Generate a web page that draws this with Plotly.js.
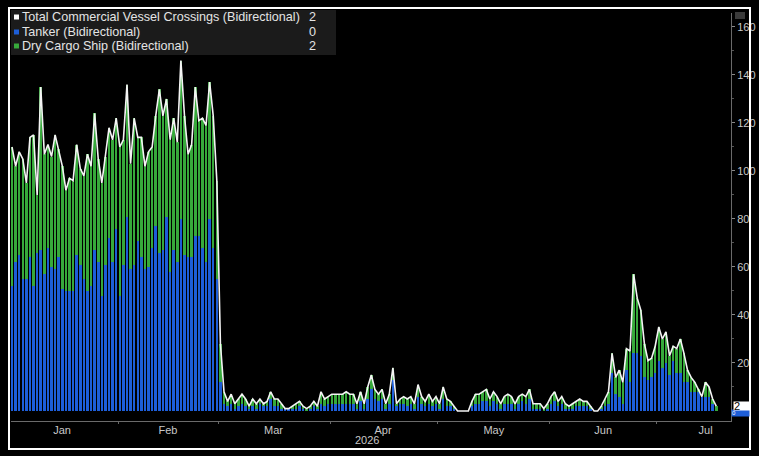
<!DOCTYPE html>
<html>
<head>
<meta charset="utf-8">
<script src="https://cdn.plot.ly/plotly-3.0.1.min.js"></script>
<style>
  html, body { margin: 0; padding: 0; background: #000; }
  #chart { width: 759px; height: 456px; }
</style>
</head>
<body>
<div id="chart"></div>
<script>
// ---- Data (daily, starting 2026-01-02) ----
const firstDay = '2026-01-02';

const totalCrossings = [
  110,102,108,105,95,114,115,90,135,107,111,106,115,109,102,92,97,96,111,101,98,107,102,124,105,95,106,118,113,122,
  110,113,136,103,122,114,114,102,108,110,123,134,123,130,113,122,112,146,123,107,111,135,121,122,119,137,123,96,
  28,
  8,4,7,3,5,7,5,2,5,3,5,3,4,8,5,5,3,1,1,2,3,4,2,1,2,4,2,8,5,6,7,
  7,7,7,8,7,7,3,8,3,10,15,9,7,9,3,7,18,3,5,6,5,6,3,11,6,4,7,4,6,3,10,5,4,
  2,0,0,0,0,
  4,7,7,8,9,5,8,6,3,6,7,6,3,6,7,6,9,
  3,3,3,1,3,6,8,4,6,3,2,3,4,5,4,4,2,0,0,2,5,8,24,14,17,12,26,25,
  57,47,42,28,21,22,27,35,30,33,23,27,26,30,24,17,14,12,9,6,12,10,5,2
];

const tanker = [
  52,62,65,55,55,64,52,66,67,57,68,60,59,64,51,50,50,50,65,61,55,50,52,67,62,48,61,72,62,76,
  48,61,81,59,61,71,64,59,60,68,77,66,67,81,58,67,62,80,65,64,64,73,73,68,62,80,68,55,
  12,
  3,2,3,1,2,3,2,1,2,1,3,2,2,5,2,2,1,1,1,1,1,2,1,0,1,2,1,3,2,3,3,
  3,3,3,3,3,3,1,4,1,5,9,5,4,5,1,3,13,2,3,3,2,3,1,6,3,2,3,2,3,1,5,2,2,
  1,0,0,0,0,
  2,3,3,4,4,2,4,3,1,3,3,3,1,3,4,3,5,
  1,1,1,0,1,3,4,2,3,1,1,1,2,2,2,2,1,0,0,1,2,3,16,7,6,3,17,12,
  24,24,23,14,13,14,16,21,18,20,15,21,16,16,12,12,8,8,8,6,6,6,3,0
];

const dryCargo = [
  58,40,43,50,40,50,63,24,68,50,43,46,56,45,51,42,47,46,46,40,43,57,50,57,43,47,45,46,51,46,
  62,52,55,44,61,43,50,43,48,42,46,68,56,49,55,55,50,66,58,43,47,62,48,54,57,57,55,41,
  16,
  5,2,4,2,3,4,3,1,3,2,2,1,2,3,3,3,2,0,0,1,2,2,1,1,1,2,1,5,3,3,4,
  4,4,4,5,4,4,2,4,2,5,6,4,3,4,2,4,5,1,2,3,3,3,2,5,3,2,4,2,3,2,5,3,2,
  1,0,0,0,0,
  2,4,4,4,5,3,4,3,2,3,4,3,2,3,3,3,4,
  2,2,2,1,2,3,4,2,3,2,1,2,2,3,2,2,1,0,0,1,3,5,8,7,11,9,9,13,
  33,23,19,14,8,8,11,14,12,13,8,6,10,14,12,5,6,4,1,0,6,4,2,2
];

const seriesNames = [
  'Total Commercial Vessel Crossings (Bidirectional)',
  'Tanker (Bidirectional)',
  'Dry Cargo Ship (Bidirectional)'
];
const lastValues = ['2', '0', '2'];
const yTickVals = [20, 40, 60, 80, 100, 120, 140, 160];
const monthLabels = ['Jan', 'Feb', 'Mar', 'Apr', 'May', 'Jun', 'Jul'];
const monthLabelDates = ['2026-01-16 10:00', '2026-02-14 22:00', '2026-03-16 07:00', '2026-04-15 18:00',
                         '2026-05-16 14:00', '2026-06-16 01:00', '2026-07-14 13:00'];
const yearLabel = '2026';

// ---- Dates ----
const dates = totalCrossings.map((_, i) => {
  const d = new Date(firstDay + 'T12:00:00Z');
  d.setUTCDate(d.getUTCDate() + i);
  return d.toISOString().slice(0, 19).replace('T', ' ');
});

// ---- Layout helpers (pixel -> paper) ----
const W = 759, H = 456, L = 11, R = 731, T = 13, B = 421;
const px = x => (x - L) / (R - L);
const py = y => (B - y) / (B - T);

const BLUE = '#1d5ed8';
const GREEN = '#37a93b';
const TXT = '#e4e4e4';
const FONT = 'Liberation Sans, Arial, sans-serif';

const traces = [
  { type: 'bar', x: dates, y: tanker, name: seriesNames[1],
    marker: { color: BLUE, line: { width: 0 } }, hoverinfo: 'skip' },
  { type: 'bar', x: dates, y: dryCargo, name: seriesNames[2],
    marker: { color: GREEN, line: { width: 0 } }, hoverinfo: 'skip' },
  { type: 'scatter', mode: 'lines', x: dates, y: totalCrossings, name: seriesNames[0],
    line: { color: '#f4f4f4', width: 1.6 }, hoverinfo: 'skip' }
];

const legendRows = [17, 32, 46];
const legendColors = ['#ffffff', BLUE, GREEN];

const shapes = [
  { type: 'rect', xref: 'paper', yref: 'paper', x0: px(9), x1: px(750), y0: py(449), y1: py(8),
    line: { color: '#ffffff', width: 2 }, fillcolor: 'rgba(0,0,0,0)', layer: 'above' },
  { type: 'rect', xref: 'paper', yref: 'paper', x0: px(11), x1: px(336), y0: py(55), y1: py(10),
    line: { width: 0 }, fillcolor: '#1b1b1b', layer: 'above' },
  { type: 'rect', xref: 'paper', yref: 'paper', x0: px(735), x1: px(745), y0: py(19), y1: py(12),
    line: { width: 0 }, fillcolor: '#3a3a3a', layer: 'above' }
];
legendRows.forEach((yy, i) => {
  shapes.push({ type: 'rect', xref: 'paper', yref: 'paper',
    x0: px(14), x1: px(19), y0: py(yy + 2.5), y1: py(yy - 2.5),
    line: { width: 0 }, fillcolor: legendColors[i], layer: 'above' });
});

const annotations = [];
legendRows.forEach((yy, i) => {
  annotations.push({ xref: 'paper', yref: 'paper', x: px(20), y: py(yy), xanchor: 'left', yanchor: 'middle',
    text: seriesNames[i], showarrow: false, font: { family: FONT, size: 12.6, color: TXT } });
  annotations.push({ xref: 'paper', yref: 'paper', x: px(318), y: py(yy), xanchor: 'right', yanchor: 'middle',
    text: lastValues[i], showarrow: false, font: { family: FONT, size: 12.6, color: TXT } });
});
annotations.push({ xref: 'paper', yref: 'paper', x: px(367), y: py(440), xanchor: 'center', yanchor: 'middle',
  text: yearLabel, showarrow: false, font: { family: FONT, size: 11, color: '#c8c8c8' } });
// last-value tags on the right axis
annotations.push({ xref: 'paper', yref: 'paper', x: px(731), y: py(413), xanchor: 'left', yanchor: 'middle',
  text: lastValues[1], showarrow: false, bgcolor: BLUE, width: 17, height: 6, align: 'left',
  borderpad: 0, font: { family: FONT, size: 6, color: '#ffffff' } });
annotations.push({ xref: 'paper', yref: 'y', x: px(733), y: Number(lastValues[0]), xanchor: 'left', yanchor: 'middle',
  text: lastValues[0], showarrow: false, bgcolor: '#ffffff', width: 16, height: 8, align: 'left',
  borderpad: 0, font: { family: FONT, size: 11, color: '#000000' } });

const layout = {
  width: W, height: H,
  margin: { l: L, r: W - R, t: T, b: H - B, pad: 0 },
  paper_bgcolor: '#000000', plot_bgcolor: '#000000',
  barmode: 'stack', bargap: 0.3,
  showlegend: false,
  xaxis: {
    type: 'date',
    range: ['2026-01-02 05:17', '2026-07-21 14:24'],
    tickmode: 'array', tickvals: monthLabelDates, ticktext: monthLabels,
    ticks: '', ticklabelstandoff: -1,
    minor: { tickmode: 'linear', dtick: 'M1', tick0: '2026-01-01', ticks: 'outside', ticklen: 2, tickcolor: '#666' },
    showline: true, linecolor: '#6a6a6a', linewidth: 1,
    showgrid: false, zeroline: false, fixedrange: true,
    tickfont: { family: FONT, size: 11, color: '#c8c8c8' }
  },
  yaxis: {
    side: 'right', range: [-4.17, 165.83],
    tickmode: 'array', tickvals: yTickVals,
    ticks: 'outside', ticklen: 3, tickcolor: '#888',
    minor: { tickmode: 'linear', tick0: 0, dtick: 10, ticks: 'outside', ticklen: 2, tickcolor: '#555' },
    showline: true, linecolor: '#6a6a6a', linewidth: 1,
    showgrid: false, zeroline: false, fixedrange: true,
    tickfont: { family: FONT, size: 11, color: '#c8c8c8' }
  },
  shapes: shapes,
  annotations: annotations
};

Plotly.newPlot('chart', traces, layout, { staticPlot: true, displayModeBar: false });
</script>
</body>
</html>
